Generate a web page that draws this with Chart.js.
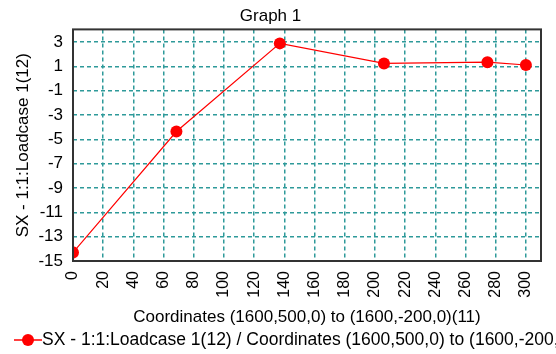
<!DOCTYPE html>
<html>
<head>
<meta charset="utf-8">
<script src="https://cdn.jsdelivr.net/npm/chart.js@4/dist/chart.umd.min.js"></script>
<style>
  html, body { margin: 0; padding: 0; background: #fff; }
  #wrap { width: 556px; height: 354px; }
</style>
</head>
<body>
<div id="wrap"><canvas id="myChart" width="556" height="354"></canvas></div>
<script>
// data
const coordX = [0, 68.5, 137, 206, 274.5, 300];
const sxValues = [-14.3, -4.35, 2.9, 1.25, 1.35, 1.12];
const xTicks = [0, 20, 40, 60, 80, 100, 120, 140, 160, 180, 200, 220, 240, 260, 280, 300];
const yTicks = [-15, -13, -11, -9, -7, -5, -3, -1, 1, 3];

const chartTitle = 'Graph 1';
const xTitle = 'Coordinates (1600,500,0) to (1600,-200,0)(11)';
const yTitle = 'SX - 1:1:Loadcase 1(12)';
const legendText = 'SX - 1:1:Loadcase 1(12) / Coordinates (1600,500,0) to (1600,-200,0)(11)';

const FONT = '"Liberation Sans", Arial, sans-serif';
const gridColor = '#2e9a9a';

// clip the series to the plot box (first marker is cut in half)
const clipPlugin = {
    id: 'clipToArea',
    beforeDatasetsDraw(chart) {
        const a = chart.chartArea;
        chart.ctx.save();
        chart.ctx.beginPath();
        chart.ctx.rect(a.left + 1, a.top, a.right - a.left - 1, a.bottom - a.top);
        chart.ctx.clip();
    },
    afterDatasetsDraw(chart) {
        chart.ctx.restore();
    }
};

// frame round the plot + legend at the bottom
const framePlugin = {
    id: 'frame',
    afterDraw(chart) {
        const ctx = chart.ctx;
        const a = chart.chartArea;
        ctx.save();
        ctx.strokeStyle = '#333';
        ctx.lineWidth = 2;
        ctx.strokeRect(a.left, a.top, a.right - a.left, a.bottom - a.top);

        // legend
        const ly = 340;
        ctx.strokeStyle = 'red';
        ctx.lineWidth = 1.5;
        ctx.beginPath();
        ctx.moveTo(14, ly);
        ctx.lineTo(42, ly);
        ctx.stroke();
        ctx.fillStyle = 'red';
        ctx.beginPath();
        ctx.arc(28, ly, 6, 0, Math.PI * 2);
        ctx.fill();
        ctx.fillStyle = '#000';
        ctx.font = '17.5px ' + FONT;
        ctx.textAlign = 'left';
        ctx.textBaseline = 'middle';
        ctx.fillText(legendText, 42, ly);
        ctx.restore();
    }
};

const data = {
    datasets: [{
        label: legendText,
        data: coordX.map((x, i) => ({ x: x, y: sxValues[i] })),
        showLine: true,
        borderColor: 'red',
        backgroundColor: 'red',
        borderWidth: 1.2,
        pointRadius: 6,
        pointHoverRadius: 6,
        pointBorderWidth: 0
    }]
};

const config = {
    type: 'scatter',
    data: data,
    plugins: [clipPlugin, framePlugin],
    options: {
        responsive: false,
        animation: false,
        layout: { padding: { top: 0, right: 15, bottom: 26, left: 0 } },
        plugins: {
            legend: { display: false },
            tooltip: { enabled: false },
            title: {
                display: true,
                text: chartTitle,
                color: '#000',
                font: { family: FONT, size: 17, weight: 'normal' },
                padding: { top: 6, bottom: 3 }
            }
        },
        scales: {
            x: {
                type: 'linear',
                min: 0,
                max: 310,
                afterBuildTicks: s => { s.ticks = xTicks.map(v => ({ value: v })); },
                afterFit: s => { s.height = 67; },
                ticks: {
                    color: '#000',
                    font: { family: FONT, size: 16 },
                    minRotation: 90,
                    maxRotation: 90,
                    padding: 10,
                    autoSkip: false
                },
                grid: { color: gridColor, lineWidth: 1.5, drawTicks: false },
                border: { display: false, dash: [4, 3] },
                title: {
                    display: true,
                    text: xTitle,
                    color: '#000',
                    font: { family: FONT, size: 17 },
                    padding: { top: 0, bottom: 0 }
                }
            },
            y: {
                type: 'linear',
                min: -15,
                max: 4.05,
                afterBuildTicks: s => { s.ticks = yTicks.map(v => ({ value: v })); },
                afterFit: s => { s.width = 73; },
                ticks: {
                    color: '#000',
                    font: { family: FONT, size: 17 },
                    padding: 10,
                    autoSkip: false
                },
                grid: { color: gridColor, lineWidth: 1.5, drawTicks: false },
                border: { display: false, dash: [4, 3] },
                title: {
                    display: true,
                    text: yTitle,
                    color: '#000',
                    font: { family: FONT, size: 17 },
                    padding: { top: 13, bottom: 0 }
                }
            }
        }
    }
};

const myChart = new Chart(document.getElementById('myChart'), config);
</script>
</body>
</html>
